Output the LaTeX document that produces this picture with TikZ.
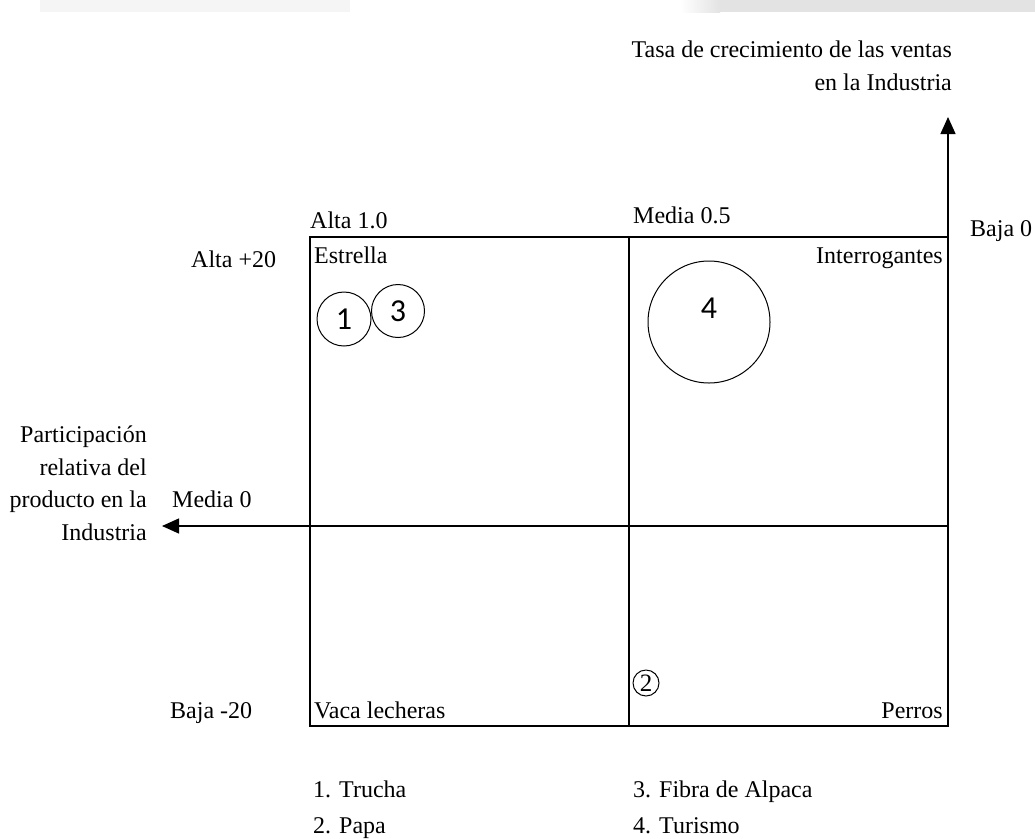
\documentclass[tikz,border=0pt]{standalone}
\usepackage{fontspec}
\setmainfont{Liberation Serif}
\newfontfamily\digitfont{Carlito}
\usetikzlibrary{arrows.meta}

\tikzset{
  lbl/.style={inner sep=0pt, font=\fontsize{24}{32.5}\selectfont},
  bubble/.style={draw, circle, line width=1pt, inner sep=0pt},
  digit/.style={inner sep=0pt, font=\digitfont\fontsize{32}{34}\selectfont},
  frame/.style={line width=1.3pt},
  axis/.style={line width=1.3pt, -{Triangle[width=15pt,length=17pt]}}
}

\begin{document}
\begin{tikzpicture}[x=1pt,y=-1pt]
\useasboundingbox (0,0) rectangle (1035,838);
\fill[black!4] (40,0) rectangle (350,12);
\shade[left color=white, right color=black!11] (680,0) rectangle (720,12);
\fill[black!11] (720,0) rectangle (1035,12);
\coordinate (tl) at (310,237);
\coordinate (tm) at (629,237);
\coordinate (tr) at (948,237);
\coordinate (mr) at (948,526);
\coordinate (bm) at (629,726);
\coordinate (br) at (948,726);
\coordinate (ytip) at (948,117);
\coordinate (xtip) at (162,526);
\draw[frame] (tl) rectangle (br);
\draw[frame] (tm) -- (bm);
\draw[axis] (tr) -- (ytip);
\draw[axis] (mr) -- (xtip);
\node[lbl, align=right, anchor=north east] (ytitle) at (952,41) {Tasa de crecimiento de las ventas\\en la Industria};
\node[lbl, align=right, anchor=north east] (xtitle) at (147,426) {Participación\\relativa del\\producto en la\\Industria};
\node[lbl, anchor=base west] (alta) at (310,228) {Alta 1.0};
\node[lbl, anchor=base west] (media) at (633,223) {Media 0.5};
\node[lbl, anchor=base west] (baja) at (970,236) {Baja 0};
\node[lbl, anchor=base west] (altaY) at (191,267) {Alta +20};
\node[lbl, anchor=base west] (mediaY) at (172,507) {Media 0};
\node[lbl, anchor=base west] (bajaY) at (170,718) {Baja -20};
\node[lbl, anchor=base west] (estrella) at (314,263) {Estrella};
\node[lbl, anchor=base east] (interr) at (943,263) {Interrogantes};
\node[lbl, anchor=base west] (vaca) at (314,718) {Vaca lecheras};
\node[lbl, anchor=base east] (perros) at (943,718) {Perros};
\node[bubble, minimum size=54pt, digit] (b1) at (344,319) {1};
\node[bubble, minimum size=53pt, digit] (b3) at (398,311) {3};
\node[bubble, minimum size=122pt] (b4) at (709,322) {};
\node[digit] (n4) at ([yshift=14pt]b4.center) {4};
\node[bubble, minimum size=26pt, font=\fontsize{25}{26}\selectfont] (b2) at (646,683) {2};
\node[lbl, anchor=base west] (leg1) at (313,797) {1. Trucha};
\node[lbl, anchor=base west] (leg2) at (313,833) {2. Papa};
\node[lbl, anchor=base west] (leg3) at (633,797) {3. Fibra de Alpaca};
\node[lbl, anchor=base west] (leg4) at (633,833) {4. Turismo};
\end{tikzpicture}
\end{document}
